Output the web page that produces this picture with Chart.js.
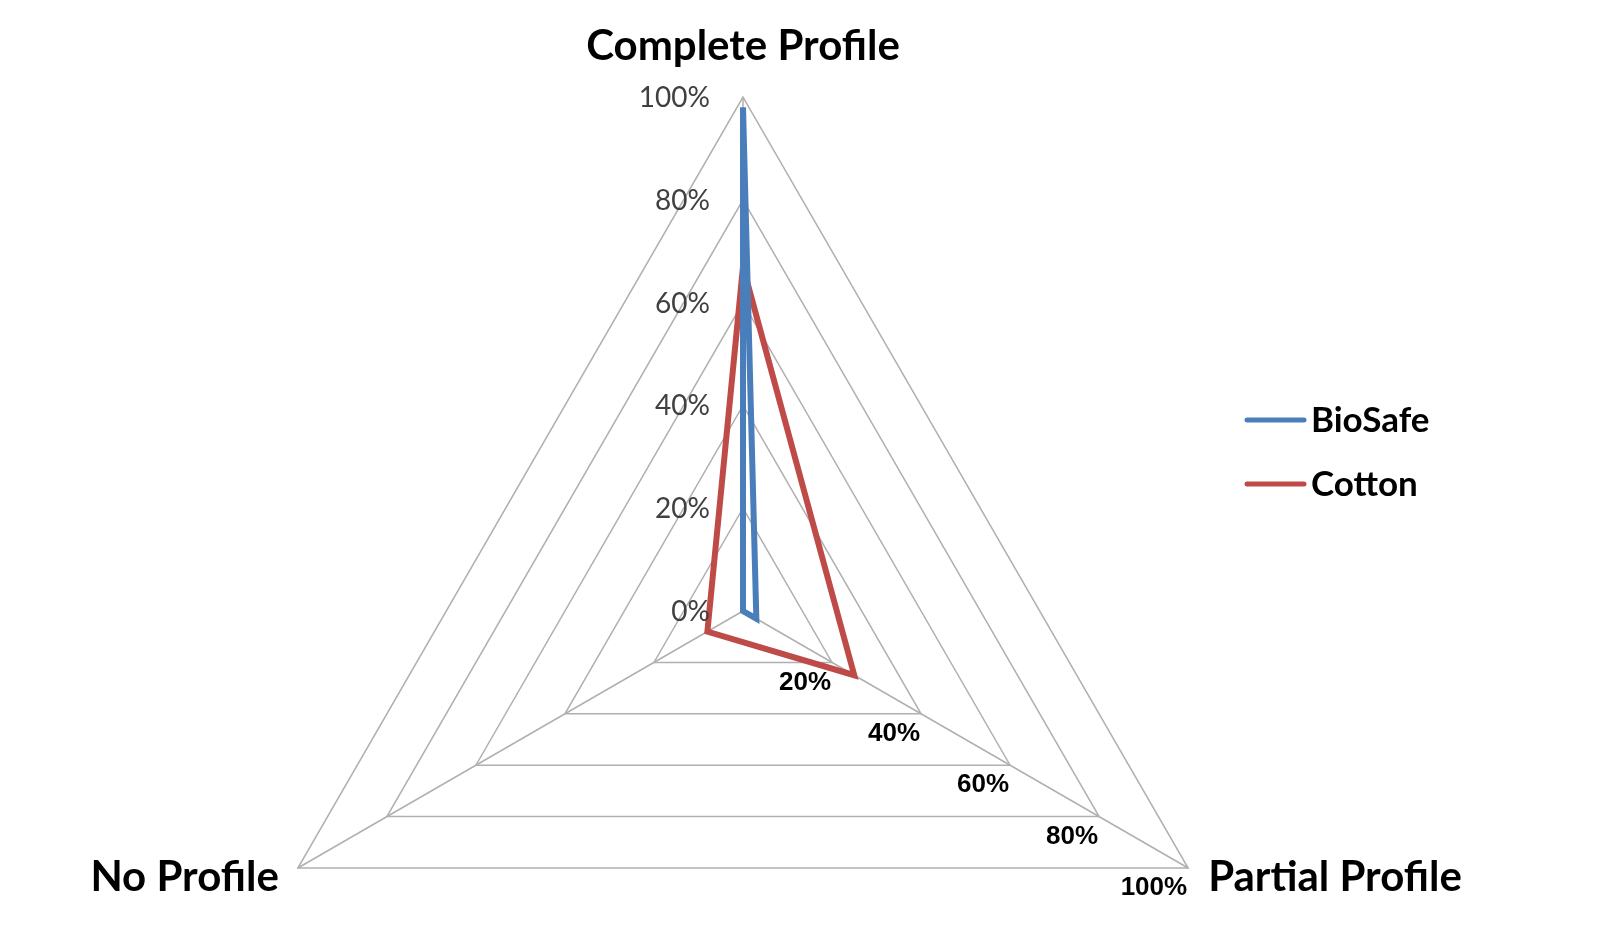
<!DOCTYPE html>
<html>
<head>
<meta charset="utf-8">
<script src="https://cdn.jsdelivr.net/npm/chart.js@4/dist/chart.umd.min.js"></script>
<style>
  html, body { margin: 0; padding: 0; background: #fff; overflow: hidden; }
  #wrap { width: 1613px; height: 925px; overflow: hidden; }
  canvas { display: block; }
</style>
</head>
<body>
<div id="wrap"><canvas id="myChart" width="1613" height="1125"></canvas></div>
<script>
(function () {
  'use strict'

  // data
  const categories = ['Complete Profile', 'Partial Profile', 'No Profile']
  const bioSafe = [98, 3, 0]
  const cotton = [67, 25, 8]
  const tickValues = [0, 20, 40, 60, 80, 100]
  const tickLabels = ['0%', '20%', '40%', '60%', '80%', '100%']

  const gridColor = '#B0B0B0'

  // axis names, both sets of % labels and the legend on the right
  const labelsPlugin = {
    id: 'excelLabels',
    afterDraw(chart) {
      const ctx = chart.ctx
      const s = chart.scales.r
      ctx.save()

      // axis names
      ctx.fillStyle = '#000'
      ctx.font = 'bold 42px Lato'
      ctx.textBaseline = 'alphabetic'
      categories.forEach(function (name, i) {
        const p = s.getPointPosition(i, s.drawingArea)
        const dx = p.x - s.xCenter
        if (Math.abs(dx) < 1) {
          ctx.textAlign = 'center'
          ctx.fillText(name, p.x, p.y - 37)
        } else if (dx > 0) {
          ctx.textAlign = 'left'
          ctx.fillText(name, p.x + 20, p.y + 23)
        } else {
          ctx.textAlign = 'right'
          ctx.fillText(name, p.x - 19, p.y + 23)
        }
      })

      // regular labels along the first axis
      ctx.fillStyle = '#404040'
      ctx.font = '28px Lato'
      ctx.textAlign = 'right'
      ctx.textBaseline = 'middle'
      tickValues.forEach(function (v, k) {
        const p = s.getPointPositionForValue(0, v)
        ctx.fillText(tickLabels[k], p.x - 33, p.y + 1)
      })

      // bold labels along the second axis
      ctx.fillStyle = '#000'
      ctx.font = 'bold 26px "Liberation Sans"'
      tickValues.forEach(function (v, k) {
        if (v === 0) return
        const p = s.getPointPositionForValue(1, v)
        ctx.fillText(tickLabels[k], p.x - 1, p.y + 20)
      })

      // legend
      ctx.font = 'bold 35px Lato'
      ctx.textAlign = 'left'
      ctx.lineCap = 'round'
      chart.data.datasets.forEach(function (ds, i) {
        const y = 420 + i * 64
        ctx.strokeStyle = ds.borderColor
        ctx.lineWidth = 5
        ctx.beginPath()
        ctx.moveTo(1247, y)
        ctx.lineTo(1304, y)
        ctx.stroke()
        ctx.fillStyle = '#000'
        ctx.fillText(ds.label, 1311, y + 1)
      })

      ctx.restore()
    }
  }

  var ctx = document.getElementById('myChart')
  const config = {
    type: 'radar',
    data: {
      labels: categories,
      datasets: [{
          label: 'BioSafe',
          data: bioSafe,
          borderColor: '#4A7EBB',
          borderWidth: 6,
          backgroundColor: 'transparent',
          fill: false,
          pointRadius: 0,
          pointHoverRadius: 0,
          tension: 0
      }, {
          label: 'Cotton',
          data: cotton,
          borderColor: '#BE4B48',
          borderWidth: 6,
          backgroundColor: 'transparent',
          fill: false,
          pointRadius: 0,
          pointHoverRadius: 0,
          tension: 0
      }]
    },
    options: {
      responsive: false,
      animation: false,
      events: [],
      layout: {
        // square box of 1028px centred on the triangle centre (743, 611);
        // the canvas runs below the window so the circle fits
        padding: { left: 229, right: 356, top: 97, bottom: 0 }
      },
      scales: {
        r: {
          min: 0,
          max: 100,
          ticks: { stepSize: 20, display: false },
          grid: { color: gridColor, lineWidth: 1.5 },
          angleLines: { color: gridColor, lineWidth: 1.5 },
          pointLabels: { display: false }
        }
      },
      plugins: {
        legend: { display: false },
        tooltip: { enabled: false }
      }
    },
    plugins: [labelsPlugin]
  }
  var radarChart = new Chart(ctx, config)

}) ()
</script>
</body>
</html>
